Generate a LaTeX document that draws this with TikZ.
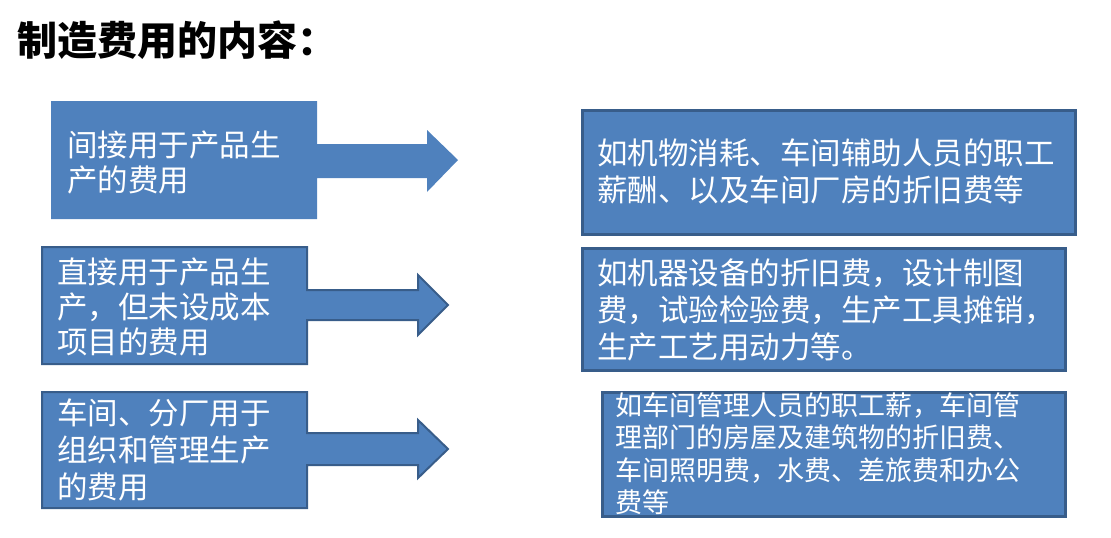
\documentclass[tikz,border=0pt]{standalone}
\usepackage{fontspec}
\newfontfamily\cjk{Noto Sans CJK SC}
\definecolor{boxfill}{HTML}{4F81BD}
\definecolor{boxline}{HTML}{385D8A}
\tikzset{
  bluefill/.style={fill=boxfill},
  blueline/.style={fill=boxfill, draw=boxline, line width=2pt, line join=miter},
  bluebox/.style={fill=boxfill, draw=boxline, line width=3pt, line join=miter},
  txt/.style={font=\cjk\fontsize{30.5}{35}\selectfont, text=white, align=left, anchor=west, inner sep=0pt},
  txtwide/.style={font=\cjk\fontsize{30.5}{37}\selectfont, text=white, align=left, anchor=west, inner sep=0pt},
  txtsmall/.style={font=\cjk\fontsize{27}{32.5}\selectfont, text=white, align=left, anchor=west, inner sep=0pt},
  titletxt/.style={font=\cjk\bfseries\fontsize{40}{44}\selectfont, text=black, anchor=west, inner sep=0pt}
}
\begin{document}
\begin{tikzpicture}[x=1pt, y=-1pt]
\useasboundingbox (0,0) rectangle (1111,538);
% title
\node[titletxt] (title) at (17,40) {制造费用的内容：};
% left shapes with arrows
\fill[bluefill] (51,101) -- (317,101) -- (317,144) -- (427,144) -- (427,130) -- (458,160) -- (427,192) -- (427,178) -- (317,178) -- (317,219) -- (51,219) -- cycle;
\draw[blueline] (42,247) -- (307,247) -- (307,290) -- (418,290) -- (418,275) -- (448,305) -- (418,335) -- (418,320) -- (307,320) -- (307,364) -- (42,364) -- cycle;
\draw[blueline] (42,392) -- (307,392) -- (307,433) -- (418,433) -- (418,420) -- (448,449) -- (418,478) -- (418,465) -- (307,465) -- (307,508) -- (42,508) -- cycle;
% right boxes
\draw[bluebox] (582,110) rectangle (1075,234);
\draw[bluebox] (582,248) rectangle (1065,370);
\draw[bluebox] (602,392) rectangle (1065,516);
% texts
\node[txt] (l1) at (67,162.5) {间接用于产品生\\产的费用};
\node[txt] (l2) at (57,307) {直接用于产品生\\产，但未设成本\\项目的费用};
\node[txtwide] (l3) at (57,450) {车间、分厂用于\\组织和管理生产\\的费用};
\node[txtwide] (r1) at (597,171.5) {如机物消耗、车间辅助人员的职工\\薪酬、以及车间厂房的折旧费等};
\node[txtwide] (r2) at (597,310) {如机器设备的折旧费，设计制图\\费，试验检验费，生产工具摊销，\\生产工艺用动力等。};
\node[txtsmall] (r3) at (615,453.5) {如车间管理人员的职工薪，车间管\\理部门的房屋及建筑物的折旧费、\\车间照明费，水费、差旅费和办公\\费等};
\end{tikzpicture}
\end{document}
